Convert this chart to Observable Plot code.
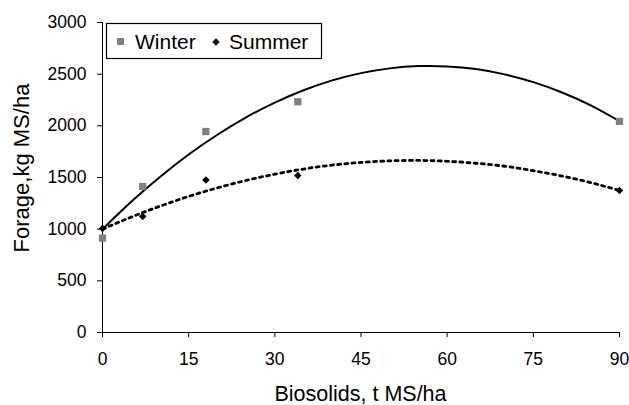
<!DOCTYPE html>
<html>
<head>
<meta charset="utf-8">
<script src="https://cdn.jsdelivr.net/npm/d3@7"></script>
<script src="https://cdn.jsdelivr.net/npm/@observablehq/plot@0.6"></script>
<style>
  html, body { margin: 0; padding: 0; background: #fff; }
  #chart { position: relative; width: 629px; height: 405px; }
</style>
</head>
<body>
<div id="chart"></div>
<script>
// Observed data (biosolids dose, t MS/ha)
const doses = [0, 7, 18, 34, 90];
const winterForage = [913, 1413, 1945, 2233, 2043];
const summerForage = [1007, 1123, 1475, 1520, 1375];

// Trend curves
const trendX = [0, 5, 10, 15, 20, 25, 30, 35, 40, 45, 50, 55, 60, 65, 70, 75, 80, 85, 90];
const winterTrend = [1000, 1265, 1505, 1723, 1914, 2082, 2225, 2344, 2440, 2510, 2556, 2578, 2575, 2549, 2498, 2423, 2323, 2198, 2045];
const summerTrend = [1000, 1117, 1222, 1317, 1400, 1472, 1532, 1582, 1620, 1646, 1661, 1665, 1657, 1638, 1609, 1566, 1514, 1450, 1375];

const xTicks = [0, 15, 30, 45, 60, 75, 90];
const yTicks = [0, 500, 1000, 1500, 2000, 2500, 3000];
const seriesNames = ["Winter", "Summer"];
const xTitle = "Biosolids, t MS/ha";
const yTitle = "Forage,kg MS/ha";

const pts = (xs, ys) => xs.map((x, i) => ({x, y: ys[i]}));
const winterPts = pts(doses, winterForage);
const summerPts = pts(doses, summerForage);
const winterLine = pts(trendX, winterTrend);
const summerLine = pts(trendX, summerTrend);

const W = 629, H = 405;
const mL = 102, mR = 10, mT = 22, mB = 73;

const plot = Plot.plot({
  width: W,
  height: H,
  marginLeft: mL,
  marginRight: mR,
  marginTop: mT,
  marginBottom: mB,
  style: {fontFamily: "'Liberation Sans', Arial, sans-serif", fontSize: "17.5px", color: "#000", background: "#fff", overflow: "visible"},
  x: {domain: [0, 90], ticks: xTicks, tickSize: 5, tickPadding: 15, label: null, tickFormat: d => String(d)},
  y: {domain: [0, 3000], ticks: yTicks, tickSize: 5, tickPadding: 11, label: null, tickFormat: d => String(d)},
  marks: [
    Plot.ruleX([0], {stroke: "#000", strokeWidth: 1}),
    Plot.ruleY([0], {stroke: "#000", strokeWidth: 1}),
    Plot.line(summerLine, {x: "x", y: "y", stroke: "#000", strokeWidth: 2.8, strokeDasharray: "3,4.2", curve: "natural"}),
    Plot.line(winterLine, {x: "x", y: "y", stroke: "#000", strokeWidth: 2, curve: "natural"}),
    Plot.dot(winterPts, {x: "x", y: "y", symbol: "square", r: 4.1, fill: "#808080", stroke: "none"}),
    Plot.dot(summerPts, {x: "x", y: "y", symbol: "diamond2", r: 3.4, fill: "#000", stroke: "none"})
  ]
});
document.getElementById("chart").appendChild(plot);

const svg = d3.select(plot);
// Axis titles
svg.append("text")
  .attr("x", (mL + W - mR) / 2).attr("y", 401)
  .attr("text-anchor", "middle")
  .style("font-size", "21.5px").attr("fill", "#000")
  .text(xTitle);
svg.append("text")
  .attr("transform", "translate(29,168) rotate(-90)")
  .attr("text-anchor", "middle")
  .style("font-size", "22px").attr("fill", "#000")
  .text(yTitle);

// Legend
const lg = svg.append("g").attr("text-anchor", "start");
lg.append("rect").attr("x", 106.5).attr("y", 23.5).attr("width", 215).attr("height", 35)
  .attr("fill", "#fff").attr("stroke", "#000").attr("stroke-width", 1.2);
lg.append("path").attr("transform", "translate(120.5,41.5)")
  .attr("d", d3.symbol(d3.symbolSquare, 49)()).attr("fill", "#808080");
lg.append("text").attr("x", 135).attr("y", 49).attr("text-anchor", "start")
  .style("font-size", "21px").attr("fill", "#000").text(seriesNames[0]);
lg.append("path").attr("transform", "translate(216,42)")
  .attr("d", d3.symbol(d3.symbolDiamond2 || d3.symbolDiamond, 34)()).attr("fill", "#000");
lg.append("text").attr("x", 229).attr("y", 49).attr("text-anchor", "start")
  .style("font-size", "21px").attr("fill", "#000").text(seriesNames[1]);
</script>
</body>
</html>
